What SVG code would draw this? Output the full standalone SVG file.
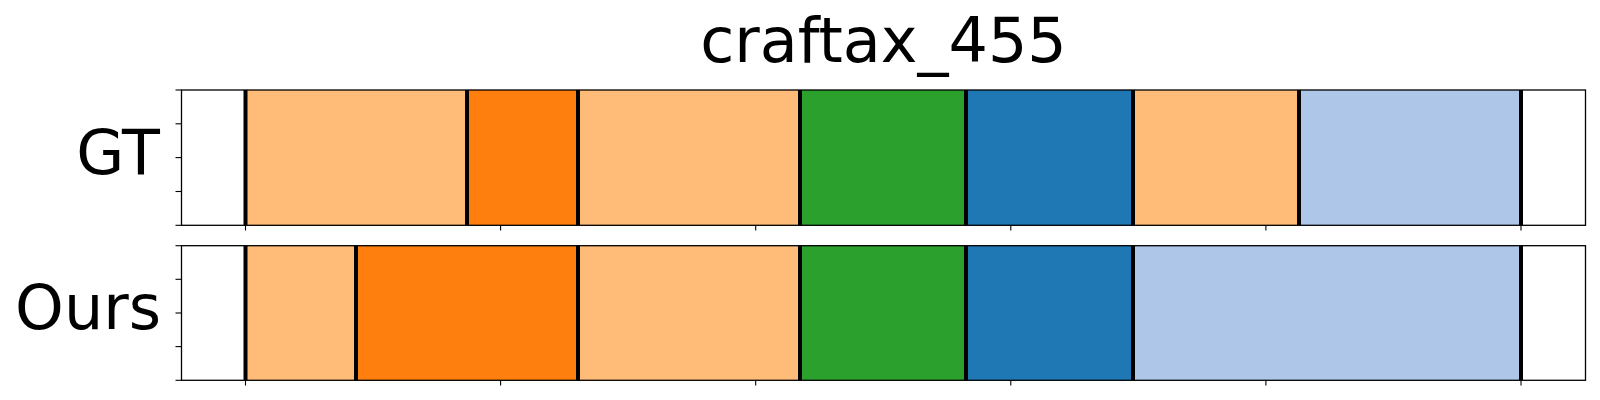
<svg xmlns="http://www.w3.org/2000/svg" width="1600" height="400" viewBox="0 0 1600 400">
<style>
  .lbl { font-family: "DejaVu Sans", "Liberation Sans", sans-serif; font-size: 62px; fill: #000; }
  .spine { fill: none; stroke: #000; stroke-width: 1.3; }
  .tick { stroke: #000; stroke-width: 1.1; }
  .bnd { stroke: #000; stroke-width: 4; }
  .lo { fill: #ffbb78; }
  .o { fill: #ff7f0e; }
  .g { fill: #2ca02c; }
  .b { fill: #1f77b4; }
  .lb { fill: #aec7e8; }
</style>
<rect x="0" y="0" width="1600" height="400" fill="#fff"/>
<text class="lbl" x="883.5" y="62" text-anchor="middle">craftax_455</text>

<g id="gt">
  <rect class="lo" x="245.5" y="90" width="221.5" height="135.3"/>
  <rect class="o" x="467" y="90" width="111" height="135.3"/>
  <rect class="lo" x="578" y="90" width="222" height="135.3"/>
  <rect class="g" x="800" y="90" width="166" height="135.3"/>
  <rect class="b" x="966" y="90" width="167" height="135.3"/>
  <rect class="lo" x="1133" y="90" width="166" height="135.3"/>
  <rect class="lb" x="1299" y="90" width="222" height="135.3"/>
  <g class="bnd">
    <line x1="245.5" y1="90" x2="245.5" y2="225.3"/>
    <line x1="467" y1="90" x2="467" y2="225.3"/>
    <line x1="578" y1="90" x2="578" y2="225.3"/>
    <line x1="800" y1="90" x2="800" y2="225.3"/>
    <line x1="966" y1="90" x2="966" y2="225.3"/>
    <line x1="1133" y1="90" x2="1133" y2="225.3"/>
    <line x1="1299" y1="90" x2="1299" y2="225.3"/>
    <line x1="1521" y1="90" x2="1521" y2="225.3"/>
  </g>
  <rect class="spine" x="181.5" y="90" width="1404" height="135.3"/>
  <g class="tick">
    <line x1="175.5" y1="90" x2="181.5" y2="90"/>
    <line x1="175.5" y1="123.8" x2="181.5" y2="123.8"/>
    <line x1="175.5" y1="157.6" x2="181.5" y2="157.6"/>
    <line x1="175.5" y1="191.5" x2="181.5" y2="191.5"/>
    <line x1="175.5" y1="225.3" x2="181.5" y2="225.3"/>
    <line x1="245.5" y1="225.3" x2="245.5" y2="230.5"/>
    <line x1="500.6" y1="225.3" x2="500.6" y2="230.5"/>
    <line x1="755.7" y1="225.3" x2="755.7" y2="230.5"/>
    <line x1="1010.8" y1="225.3" x2="1010.8" y2="230.5"/>
    <line x1="1265.9" y1="225.3" x2="1265.9" y2="230.5"/>
    <line x1="1521" y1="225.3" x2="1521" y2="230.5"/>
  </g>
  <text class="lbl" x="160" y="174" text-anchor="end">GT</text>
</g>

<g id="ours">
  <rect class="lo" x="245.5" y="245.7" width="110.5" height="134.6"/>
  <rect class="o" x="356" y="245.7" width="222" height="134.6"/>
  <rect class="lo" x="578" y="245.7" width="222" height="134.6"/>
  <rect class="g" x="800" y="245.7" width="166" height="134.6"/>
  <rect class="b" x="966" y="245.7" width="167" height="134.6"/>
  <rect class="lb" x="1133" y="245.7" width="388" height="134.6"/>
  <g class="bnd">
    <line x1="245.5" y1="245.7" x2="245.5" y2="380.3"/>
    <line x1="356" y1="245.7" x2="356" y2="380.3"/>
    <line x1="578" y1="245.7" x2="578" y2="380.3"/>
    <line x1="800" y1="245.7" x2="800" y2="380.3"/>
    <line x1="966" y1="245.7" x2="966" y2="380.3"/>
    <line x1="1133" y1="245.7" x2="1133" y2="380.3"/>
    <line x1="1521" y1="245.7" x2="1521" y2="380.3"/>
  </g>
  <rect class="spine" x="181.5" y="245.7" width="1404" height="134.6"/>
  <g class="tick">
    <line x1="175.5" y1="245.7" x2="181.5" y2="245.7"/>
    <line x1="175.5" y1="279.3" x2="181.5" y2="279.3"/>
    <line x1="175.5" y1="313" x2="181.5" y2="313"/>
    <line x1="175.5" y1="346.6" x2="181.5" y2="346.6"/>
    <line x1="175.5" y1="380.3" x2="181.5" y2="380.3"/>
    <line x1="245.5" y1="380.3" x2="245.5" y2="385.5"/>
    <line x1="500.6" y1="380.3" x2="500.6" y2="385.5"/>
    <line x1="755.7" y1="380.3" x2="755.7" y2="385.5"/>
    <line x1="1010.8" y1="380.3" x2="1010.8" y2="385.5"/>
    <line x1="1265.9" y1="380.3" x2="1265.9" y2="385.5"/>
    <line x1="1521" y1="380.3" x2="1521" y2="385.5"/>
  </g>
  <text class="lbl" x="161" y="329" text-anchor="end">Ours</text>
</g>
</svg>
